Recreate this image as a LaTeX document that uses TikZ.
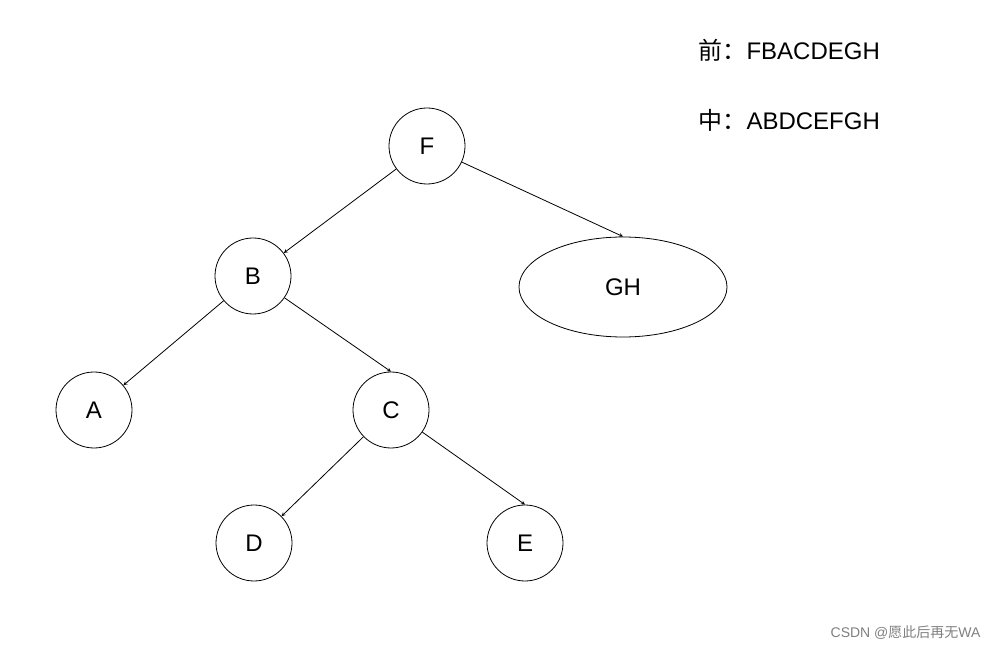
\documentclass[tikz,border=0pt]{standalone}
\usepackage{fontspec}
\usetikzlibrary{shapes.geometric}
\setmainfont{Liberation Sans}
\newfontfamily\cjk{Noto Sans CJK SC}
\begin{document}
\begin{tikzpicture}[x=1pt,y=-1pt,
  nd/.style={circle,draw,thick,minimum size=76pt,inner sep=0pt,font=\fontsize{24}{24}\selectfont},
  ar/.style={-stealth,thick}]
\useasboundingbox (0,0) rectangle (997,652);
\node[nd] (F) at (427,146) {F};
\node[nd] (B) at (253,276) {B};
\node[ellipse,draw,thick,minimum width=208pt,minimum height=100pt,font=\fontsize{24}{24}\selectfont] (GH) at (623,287) {GH};
\node[nd] (A) at (94,410) {A};
\node[nd] (C) at (391,410) {C};
\node[nd] (D) at (254,543) {D};
\node[nd] (E) at (525,543) {E};
\draw[ar] (F) -- (B);
\draw[ar] (F) -- (GH.north);
\draw[ar] (B) -- (A);
\draw[ar] (B) -- (C.north);
\draw[ar] (C) -- (D);
\draw[ar] (C) -- (E.north);
\node[anchor=west,font=\fontsize{24}{24}\selectfont] (t1) at (695,50) {{\cjk 前：}FBACDEGH};
\node[anchor=west,font=\fontsize{24}{24}\selectfont] (t2) at (695,120) {{\cjk 中：}ABDCEFGH};
\node[anchor=east,text=gray,font=\fontsize{14}{14}\selectfont] (wm) at (984,633) {CSDN @{\cjk 愿此后再无}WA};
\end{tikzpicture}
\end{document}
